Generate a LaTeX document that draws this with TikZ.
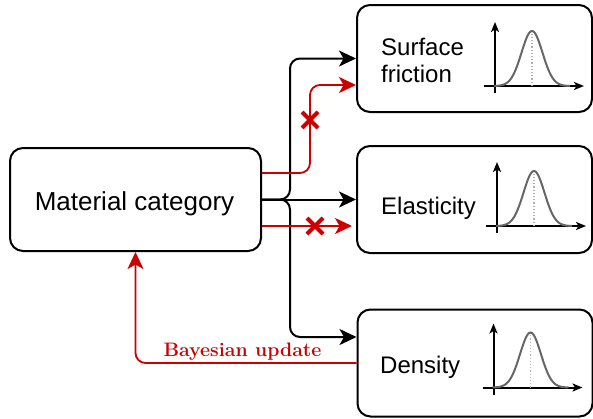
\documentclass[tikz,border=0pt]{standalone}
\usepackage{fontspec}
\newfontfamily\boxfont{Liberation Sans}
\usetikzlibrary{arrows.meta,calc,shapes.misc}
\definecolor{upd}{HTML}{CC0000}
\definecolor{curvegray}{HTML}{666666}
\definecolor{guidegray}{HTML}{B0B0B0}
\tikzset{
  box/.style={draw, line width=2pt, rounded corners=13pt, inner sep=0pt},
  rbox/.style={box, minimum width=235pt, minimum height=107pt},
  tip/.style={-{Stealth[length=17pt,width=16pt,inset=4.5pt]}},
  link/.style={line width=2pt, rounded corners=10pt, tip},
  redlink/.style={link, draw=upd, line width=1.8pt},
  veto/.style={cross out, draw=upd, line width=4pt, minimum size=12pt, inner sep=0pt},
  boxtext/.style={font=\boxfont\fontsize{24}{27}\selectfont, align=left, anchor=base west, inner sep=0pt},
  axis/.style={line width=2pt, -{Stealth[length=10pt,width=8pt,inset=2.5pt]}},
  gauss/.pic={
    \draw[axis] (0,71) -- (0,0);
    \draw[axis] (-11,64) -- (89,64);
    \draw[guidegray, dotted, line width=1.2pt] (37,64) -- (37,9);
    \draw[curvegray, line width=2pt] plot[domain=-38:38, samples=61, smooth]
      ({37+\x},{64-55*exp(-(\x*\x)/220)});
  }
}
\begin{document}
\begin{tikzpicture}[x=1pt, y=-1pt]
  \useasboundingbox (0,0) rectangle (593,418);

  % category box and the three property boxes
  \node[box, minimum width=251pt, minimum height=103pt] (mat) at (135.5,199.5) {};
  \node[boxtext, font=\boxfont\fontsize{26}{29}\selectfont, anchor=base] (mattext) at (134.5,210) {Material category};

  \node[rbox] (fric) at (474.5,58.5) {};
  \node[rbox] (elas) at (474.5,199.5) {};
  \node[rbox] (dens) at (475,363) {};

  \node[boxtext] (frictext) at (381,82) {Surface\\friction};
  \node[boxtext] (elastext) at (381,214) {Elasticity};
  \node[boxtext] (denstext) at (380,373) {Density};

  % distribution sketches
  \pic at ($(fric.north west)+(139,18)$) {gauss};
  \pic at ($(elas.north west)+(141,17)$) {gauss};
  \pic at ($(dens.north west)+(137,15)$) {gauss};

  % branching connectors
  \coordinate (jb) at (290,0);
  \coordinate (jr) at (310,0);
  \draw[link] (mat.east) -| (jb |- fric.west) -- (fric.west);
  \draw[link] (mat.east) -- (elas.west);
  \coordinate (densin) at ($(dens.west)+(0,-26)$);
  \draw[link] (mat.east) -| (jb |- densin) -- (densin);

  % blocked updates
  \coordinate (rtopout) at ($(mat.east)+(0,-26.5)$);
  \coordinate (rtopin) at ($(fric.west)+(0,26.5)$);
  \draw[redlink] (rtopout) -| (jr |- rtopin) -- (rtopin);
  \coordinate (rmidout) at ($(mat.east)+(0,26.5)$);
  \coordinate (rmidin) at ($(elas.west)+(-4,26.5)$);
  \draw[redlink] (rmidout) -- (rmidin);
  \node[veto] (vetotop) at (310,120) {};
  \node[veto] (vetomid) at (315,226) {};

  % feedback from density
  \draw[redlink] (dens.west) -| (mat.south);
  \node[text=upd, font=\bfseries\fontsize{19.5}{22}\selectfont, anchor=base, inner sep=0pt] (bayes) at (242.5,356) {Bayesian update};
\end{tikzpicture}
\end{document}
